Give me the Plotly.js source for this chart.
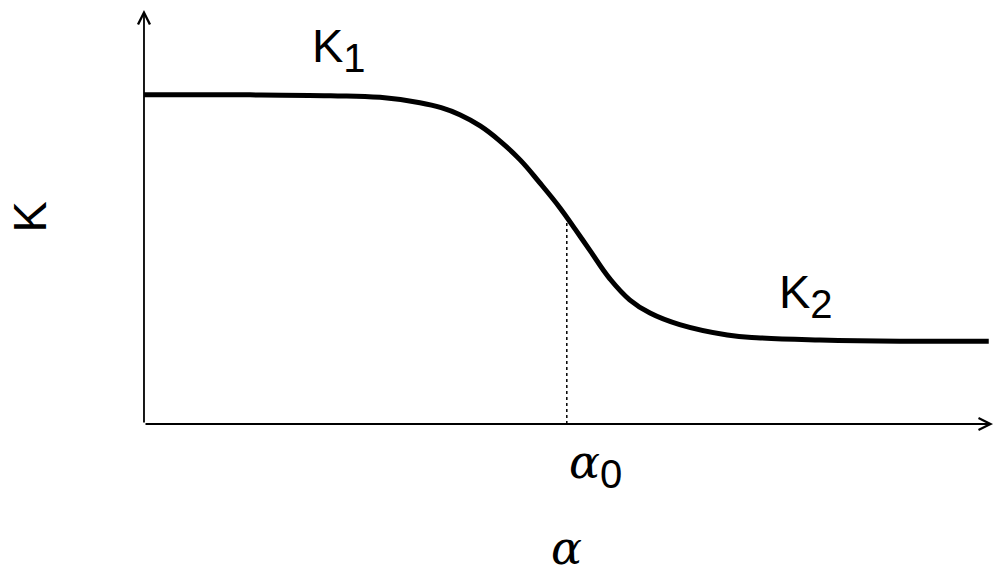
<!DOCTYPE html>
<html>
<head>
<meta charset="utf-8">
<script src="https://cdn.plot.ly/plotly-3.0.1.min.js"></script>
<style>
  html, body { margin: 0; padding: 0; background: #fff; }
  #plot { width: 1000px; height: 574px; }
</style>
</head>
<body>
<div id="plot"></div>
<script>
// curve (alpha in 0..10, K in 0..1)
var alpha = [0, 1.25, 2.2, 2.78, 3.25, 3.5, 3.72, 3.96, 4.19, 4.43, 4.66, 4.9, 5.08, 5.25, 5.49, 5.72, 5.96, 6.31, 6.87, 7.26, 7.96, 8.9, 9.95];
var kValues = [0.795, 0.795, 0.793, 0.789, 0.776, 0.764, 0.747, 0.72, 0.684, 0.638, 0.583, 0.522, 0.47, 0.42, 0.35, 0.30, 0.268, 0.24, 0.215, 0.208, 0.203, 0.2, 0.2];

var alpha0 = 4.98;
var kAtAlpha0 = 0.495;

var curve = {
  x: alpha,
  y: kValues,
  type: "scatter",
  mode: "lines",
  line: {color: "#000", width: 5, shape: "spline", smoothing: 1.2},
  hoverinfo: "skip"
};

var dropLine = {
  x: [alpha0, alpha0],
  y: [0, kAtAlpha0],
  type: "scatter",
  mode: "lines",
  line: {color: "#000", width: 1.5, dash: "dot"},
  hoverinfo: "skip"
};

var sans = "Liberation Sans, Arial, sans-serif";
var serif = "DejaVu Serif, serif";
var subSans = "<span style='font-size:40px;font-family:Liberation Sans'>";

var layout = {
  width: 1000,
  height: 574,
  margin: {l: 140, r: 3, t: 6, b: 146},
  paper_bgcolor: "#fff",
  plot_bgcolor: "#fff",
  showlegend: false,
  xaxis: {range: [-0.047, 10.047], visible: false, fixedrange: true},
  yaxis: {range: [-0.00966, 1.00966], visible: false, fixedrange: true},
  annotations: [
    // axes with open arrow heads
    {x: 10, y: 0, ax: 0, ay: 0, xref: "x", yref: "y", axref: "x", ayref: "y",
     text: "", showarrow: true, arrowhead: 5, arrowsize: 1.3, arrowwidth: 1.8, arrowcolor: "#000"},
    {x: 0, y: 1, ax: 0, ay: 0, xref: "x", yref: "y", axref: "x", ayref: "y",
     text: "", showarrow: true, arrowhead: 5, arrowsize: 1.3, arrowwidth: 1.8, arrowcolor: "#000"},
    // labels
    {x: 1.96, y: 0.905, xref: "x", yref: "y", xanchor: "left", yanchor: "middle", showarrow: false,
     text: "K<sub>" + subSans + "1</span></sub>", font: {family: sans, size: 47, color: "#000"}},
    {x: 7.45, y: 0.31, xref: "x", yref: "y", xanchor: "left", yanchor: "middle", showarrow: false,
     text: "K<sub>" + subSans + "2</span></sub>", font: {family: sans, size: 47, color: "#000"}},
    {x: alpha0, y: -0.09, xref: "x", yref: "paper", xanchor: "left", yanchor: "middle", showarrow: false,
     text: "<i>α</i><sub>" + subSans + "0</span></sub>", font: {family: serif, size: 46, color: "#000"}},
    {x: alpha0, y: -0.285, xref: "x", yref: "paper", xanchor: "center", yanchor: "middle", showarrow: false,
     text: "<i>α</i>", font: {family: serif, size: 46, color: "#000"}},
    {x: -0.13, y: 0.5, xref: "paper", yref: "y", xanchor: "center", yanchor: "middle", showarrow: false,
     textangle: -90, text: "K", font: {family: sans, size: 47, color: "#000"}}
  ]
};

Plotly.newPlot("plot", [curve, dropLine], layout, {staticPlot: true, displayModeBar: false});
</script>
</body>
</html>
